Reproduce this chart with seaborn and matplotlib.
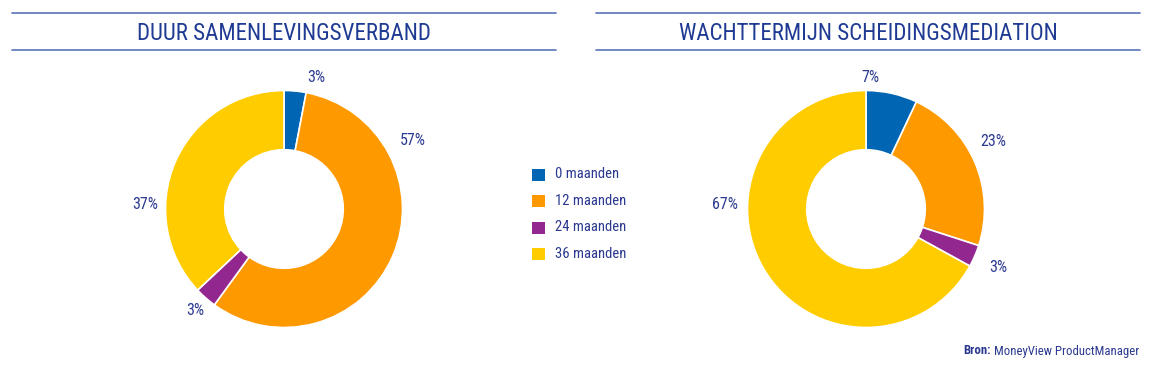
import numpy as np
import matplotlib
matplotlib.use("Agg")
import matplotlib.pyplot as plt
import seaborn as sns
from matplotlib.patches import Rectangle
from matplotlib.lines import Line2D

# ---- data ----
categories = ["0 maanden", "12 maanden", "24 maanden", "36 maanden"]
titles = ["DUUR SAMENLEVINGSVERBAND", "WACHTTERMIJN SCHEIDINGSMEDIATION"]
values_left = [3, 57, 3, 37]
values_right = [7, 23, 3, 67]
source_bold = "Bron:"
source_text = "MoneyView ProductManager"

# ---- style ----
colors = ["#0066b3", "#ff9900", "#92278f", "#ffcc00"]
text_color = "#2b3990"
title_color = "#1f3a93"
rule_color = "#5a74b8"
# label placement (polar, in pie-radius units / degrees)
label_pos_left = [(1.14, 76), (1.23, 28), (1.14, 229), (1.17, 178)]
label_pos_right = [(1.11, 88), (1.22, 28), (1.22, -24), (1.19, 178)]

sns.set_theme(style="white")
plt.rcParams["font.family"] = ["Roboto Condensed", "Archivo Narrow", "DejaVu Sans"]

W, H = 1152, 370
fig = plt.figure(figsize=(W / 100, H / 100), dpi=100)


def px_axes(cx, cy, half):
    return fig.add_axes([(cx - half) / W, 1 - (cy + half) / H, 2 * half / W, 2 * half / H])


def donut(cx, values, label_pos):
    half = 150
    ax = px_axes(cx, 209, half)
    lim = half / 118.5
    ax.pie(values, colors=colors, startangle=90, counterclock=False,
           radius=1.0, wedgeprops=dict(width=0.5, edgecolor="white", linewidth=1.2))
    ax.set_xlim(-lim, lim)
    ax.set_ylim(-lim, lim)
    ax.set_aspect("equal")
    ax.axis("off")
    for v, (r, a) in zip(values, label_pos):
        t = np.deg2rad(a)
        ax.text(r * np.cos(t), r * np.sin(t), f"{v}%", ha="center", va="center",
                fontsize=11.5, color=text_color)


donut(284, values_left, label_pos_left)
donut(866, values_right, label_pos_right)

# titles with rules
for (x0, x1), title in zip([(12, 556), (596, 1140)], titles):
    for y in (13, 50):
        fig.add_artist(Line2D([x0 / W, x1 / W], [1 - y / H, 1 - y / H],
                              color=rule_color, linewidth=1.2))
    fig.text((x0 + x1) / 2 / W, 1 - 33 / H, title, ha="center", va="center",
             fontsize=16.5, color=title_color)

# legend
for i, (cat, col) in enumerate(zip(categories, colors)):
    y = 174 + i * 26.6
    fig.add_artist(Rectangle((532 / W, 1 - (y + 6.5) / H), 13 / W, 12 / H,
                             facecolor=col, edgecolor="none"))
    fig.text(555 / W, 1 - y / H, cat, ha="left", va="center",
             fontsize=10.5, color=text_color)

# source
t2 = fig.text(1139 / W, 1 - 351 / H, source_text, ha="right", va="center",
              fontsize=9.2, color=text_color)
fig.canvas.draw()
bb = t2.get_window_extent()
fig.text((bb.x0 - 3) / W, 1 - 351 / H, source_bold, ha="right", va="center",
         fontsize=9.2, color=text_color, fontweight="bold")

fig.savefig("out.png", dpi=100)
